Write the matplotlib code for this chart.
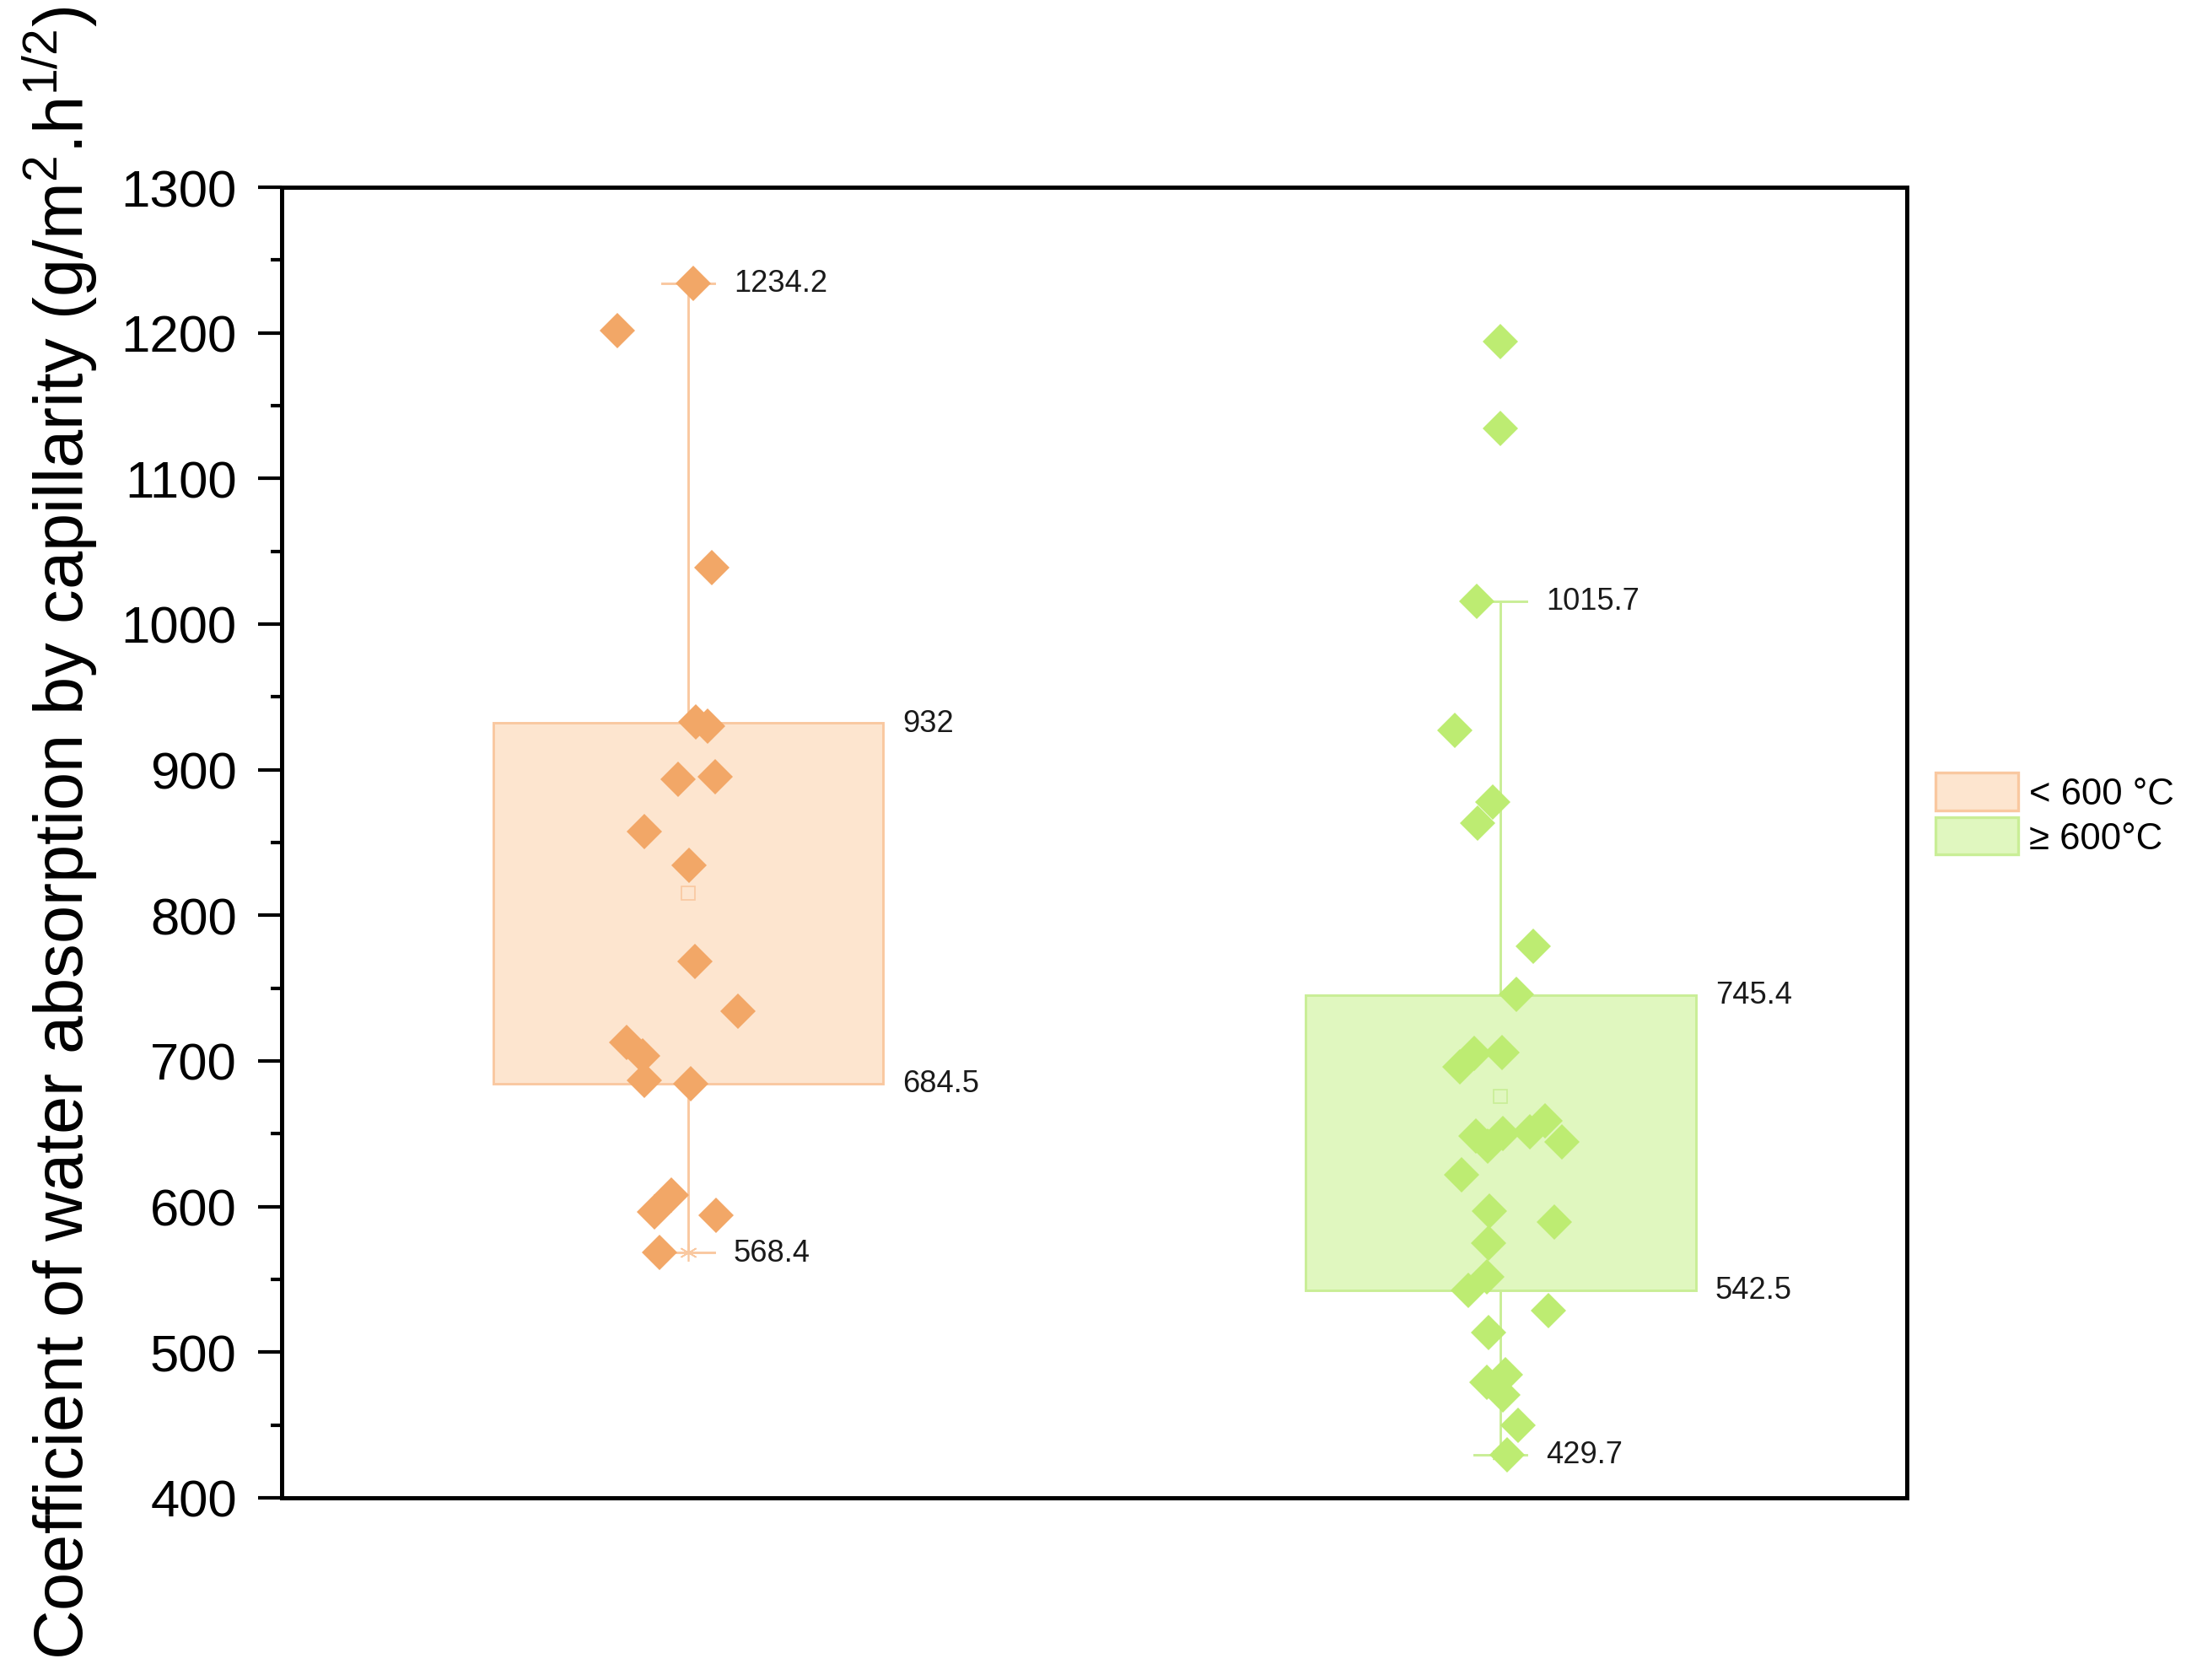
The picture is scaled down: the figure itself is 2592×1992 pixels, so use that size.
import matplotlib
matplotlib.use("Agg")
import matplotlib.pyplot as plt
from matplotlib.patches import Patch
import numpy as np

plt.rcParams['font.family'] = ['Liberation Sans', 'DejaVu Sans']
plt.rcParams['mathtext.fontset'] = 'custom'
plt.rcParams['mathtext.rm'] = 'Liberation Sans'
plt.rcParams['mathtext.it'] = 'Liberation Sans:italic'

# ---------------- data ----------------
group_labels = ["< 600 °C", "≥ 600°C"]

g1_values = [1234.2, 1201.7, 1038.9, 933.0, 930.0, 893.6, 895.0, 857.6, 834.5,
             768.2, 734.0, 712.8, 703.2, 686.8, 684.5, 607.9, 596.3, 594.0, 568.4]
g1_jitter = [0.006, -0.087, 0.029, 0.010, 0.024, -0.012, 0.033, -0.054, 0.001,
             0.008, 0.061, -0.076, -0.056, -0.054, 0.003, -0.021, -0.041, 0.034, -0.035]

g2_values = [1194.0, 1134.3, 1015.7, 927.2, 877.9, 863.1, 778.8, 745.5, 705.3,
             695.7, 705.7, 648.4, 650.3, 659.0, 644.5, 641.6, 651.3, 622.0, 597.2,
             589.5, 575.0, 551.9, 542.2, 528.7, 513.3, 479.5, 484.3, 470.8, 449.6, 429.7]
g2_jitter = [0.000, 0.000, -0.029, -0.056, -0.010, -0.028, 0.040, 0.019, -0.032,
             -0.050, 0.002, -0.030, 0.003, 0.055, 0.075, -0.016, 0.036, -0.048, -0.014,
             0.066, -0.015, -0.017, -0.040, 0.059, -0.015, -0.017, 0.006, 0.003, 0.022, 0.008]

q1_vals = [684.5, 542.5]
q3_vals = [932.0, 745.4]
whis_lo = [568.4, 429.7]
whis_hi = [1234.2, 1015.7]
mean_vals = [815.0, 675.4]

y_ticks = [400, 500, 600, 700, 800, 900, 1000, 1100, 1200, 1300]

# ---------------- style ----------------
box_face = ['#FDE5CF', '#E0F7BF']
box_edge = ['#F9C8A0', '#C9EE96']
dot_color = ['#F2A767', '#BDEC72']

fig = plt.figure(figsize=(8.64, 6.643), dpi=300)
ax = fig.add_axes([0.1289, 0.1084, 0.7434, 0.7797])

positions = [1, 2]
stats = []
for i in range(2):
    stats.append(dict(q1=q1_vals[i], q3=q3_vals[i], med=q1_vals[i],
                      whislo=whis_lo[i], whishi=whis_hi[i], mean=mean_vals[i],
                      fliers=[]))

bp = ax.bxp(stats, positions=positions, widths=0.48, capwidths=0.064,
            patch_artist=True, showmeans=False, showfliers=False,
            medianprops=dict(linewidth=0), zorder=1)
for i in range(2):
    bp['boxes'][i].set_facecolor(box_face[i])
    bp['boxes'][i].set_edgecolor(box_edge[i])
    bp['boxes'][i].set_linewidth(0.7)
    for ln in bp['whiskers'][2 * i:2 * i + 2] + bp['caps'][2 * i:2 * i + 2]:
        ln.set_color(box_edge[i])
        ln.set_linewidth(0.7)

# min / max markers
for i, vals in enumerate([g1_values, g2_values]):
    ax.plot([positions[i]] * 2, [min(vals), max(vals)], linestyle='none',
            marker=(6, 2, 0), ms=5, mew=0.4, color=box_edge[i], zorder=2)

# mean markers
for i in range(2):
    ax.plot(positions[i], mean_vals[i], marker='s', ms=4.0, mfc='none',
            mec=box_edge[i], mew=0.4, linestyle='none', zorder=2)

# data points
for i, (vals, jit) in enumerate([(g1_values, g1_jitter), (g2_values, g2_jitter)]):
    xs = positions[i] + np.array(jit)
    ax.plot(xs, vals, linestyle='none', marker='D', ms=7.0, mew=0,
            color=dot_color[i], zorder=3)

# value labels
for i in range(2):
    p = positions[i]
    for v in (whis_hi[i], whis_lo[i]):
        ax.text(p + 0.056, v, f"{v:g}", ha='left', va='center', fontsize=8.7,
                color='#1a1a1a', zorder=4)
    for v in (q3_vals[i], q1_vals[i]):
        ax.text(p + 0.24 + 0.024, v, f"{v:g}", ha='left', va='center',
                fontsize=8.7, color='#1a1a1a', zorder=4)

ax.set_xlim(0.5, 2.5)
ax.set_ylim(400, 1300)
ax.set_yticks(y_ticks)
ax.set_yticks(np.arange(450, 1300, 100), minor=True)
ax.set_xticks([])
ax.tick_params(axis='y', which='major', direction='out', length=6.8, width=1.0,
               labelsize=14.8, pad=6, right=False)
ax.tick_params(axis='y', which='minor', direction='out', length=3.2, width=1.0,
               right=False)
for sp in ax.spines.values():
    sp.set_linewidth(1.2)
    sp.set_color('black')

ax.set_ylabel("Coefficient of water absorption by capillarity (g/m$^2$.h$^{1/2}$)",
              fontsize=19.5)
ax.yaxis.set_label_coords(-0.112, 0.508)

handles = [Patch(facecolor=box_face[i], edgecolor=box_edge[i], linewidth=0.8)
           for i in range(2)]
fig.legend(handles, group_labels, loc='upper left', bbox_to_anchor=(0.877, 0.551),
           frameon=False, borderpad=0, handlelength=2.24, handleheight=1.2,
           labelspacing=0.15, handletextpad=0.3, fontsize=10.5)

fig.savefig("out.png", dpi=300)
